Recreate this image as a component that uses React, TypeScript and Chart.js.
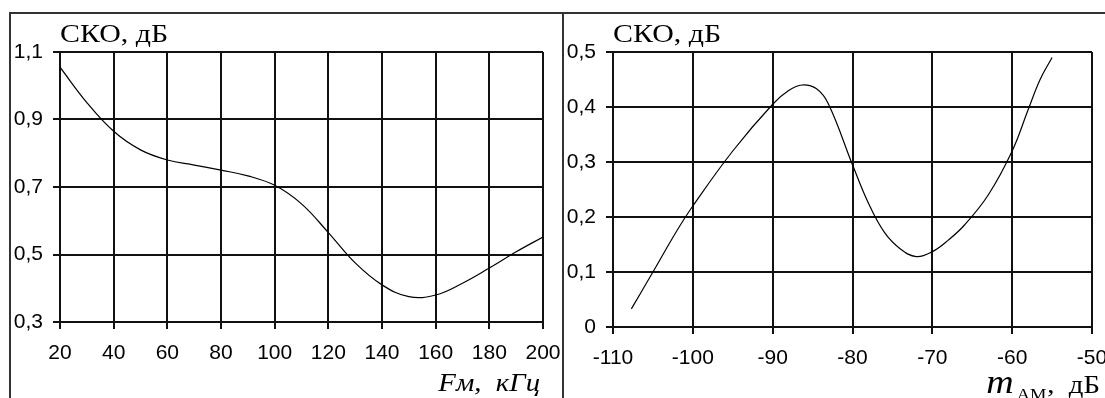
import React, { useEffect, useRef } from 'react';
import { Chart, registerables } from 'chart.js';

Chart.register(...registerables);

// ---- Left chart: СКО vs Fм ----
const fmX = [20, 30, 40, 50, 60, 70, 80, 90, 100, 110, 120, 130, 140, 150, 160, 170, 180, 190, 200];
const skoFm = [1.055, 0.95, 0.865, 0.81, 0.78, 0.765, 0.75, 0.733, 0.705, 0.65, 0.565, 0.475, 0.41, 0.375, 0.38, 0.415, 0.46, 0.508, 0.552];
const fmTicks = [20, 40, 60, 80, 100, 120, 140, 160, 180, 200];
const skoFmTicks = [0.3, 0.5, 0.7, 0.9, 1.1];

// ---- Right chart: СКО vs mАМ ----
const mX = [-107.7, -105, -102, -100, -95, -90, -88, -86.3, -84.5, -83, -80, -78, -76, -74, -72, -70, -68, -66, -63, -60, -58, -56.5, -55];
const skoM = [0.033, 0.1, 0.175, 0.22, 0.32, 0.405, 0.43, 0.44, 0.433, 0.405, 0.295, 0.225, 0.172, 0.142, 0.128, 0.137, 0.158, 0.185, 0.24, 0.32, 0.395, 0.45, 0.49];
const mTicks = [-110, -100, -90, -80, -70, -60, -50];
const skoMTicks = [0, 0.1, 0.2, 0.3, 0.4, 0.5];

const yTitle = 'СКО, дБ';
const fmTitle = 'Fм,  кГц';
const mTitleMain = 'm';
const mTitleSub = 'АМ';
const mTitleUnit = ',  дБ';

const SX = 1.15;
const SERIF = '"Liberation Serif", "Times New Roman", serif';
const SANS = '"Liberation Sans", Arial, sans-serif';

function fmtComma(v: number): string {
  if (v === 0) return '0';
  return v.toFixed(1).replace('.', ',');
}

function drawStretched(ctx: CanvasRenderingContext2D, text: string, x: number, y: number, font: string, align: 'left' | 'right' = 'left'): number {
  ctx.save();
  ctx.font = font;
  ctx.fillStyle = '#000';
  ctx.textBaseline = 'alphabetic';
  ctx.textAlign = 'left';
  const w = ctx.measureText(text).width * SX;
  const x0 = align === 'right' ? x - w : x;
  ctx.translate(x0, y);
  ctx.scale(SX, 1);
  ctx.fillText(text, 0, 0);
  ctx.restore();
  return x0;
}

function makeConfig(opts: {
  xs: number[]; ys: number[]; xTicks: number[]; yTicks: number[];
  xMin: number; xMax: number; yMin: number; yMax: number;
  padRight: number; xAxisH: number;
  drawTexts: (ctx: CanvasRenderingContext2D, area: any) => void;
}): any {
  const gridCol = '#111';
  return {
    type: 'line',
    data: {
      datasets: [{
        data: opts.xs.map((x, i) => ({ x, y: opts.ys[i] })),
        borderColor: '#000',
        borderWidth: 1.2,
        pointRadius: 0,
        fill: false,
        tension: 0.4,
      }],
    },
    options: {
      responsive: false,
      animation: false,
      events: [],
      layout: { padding: { top: 38, right: opts.padRight, left: 0, bottom: 0 } },
      plugins: { legend: { display: false }, tooltip: { enabled: false }, title: { display: false } },
      scales: {
        x: {
          type: 'linear',
          min: opts.xMin,
          max: opts.xMax,
          afterBuildTicks: (s: any) => { s.ticks = opts.xTicks.map((v) => ({ value: v })); },
          afterFit: (s: any) => { s.height = opts.xAxisH; s.paddingLeft = 0; s.paddingRight = 0; },
          ticks: {
            font: { family: SANS, size: 21 },
            color: '#000',
            padding: 12,
            maxRotation: 0,
            autoSkip: false,
            callback: (v: any) => String(v),
          },
          grid: { color: gridCol, lineWidth: 2, tickLength: 7, tickColor: gridCol, tickWidth: 2, drawTicks: true },
          border: { color: gridCol, width: 2 },
        },
        y: {
          type: 'linear',
          min: opts.yMin,
          max: opts.yMax,
          afterBuildTicks: (s: any) => { s.ticks = opts.yTicks.map((v) => ({ value: v })); },
          afterFit: (s: any) => { s.width = 49; s.paddingTop = 0; s.paddingBottom = 0; },
          ticks: {
            font: { family: SANS, size: 21 },
            color: '#000',
            padding: 10,
            autoSkip: false,
            callback: (v: any) => fmtComma(Number(v)),
          },
          grid: { color: gridCol, lineWidth: 2, tickLength: 7, tickColor: gridCol, tickWidth: 2, drawTicks: true },
          border: { color: gridCol, width: 2 },
        },
      },
    },
    plugins: [{
      id: 'texts',
      afterDraw(chart: any) {
        const ctx = chart.ctx as CanvasRenderingContext2D;
        ctx.save();
        opts.drawTexts(ctx, chart.chartArea);
        ctx.restore();
      },
    }],
  };
}

export default function App() {
  const leftRef = useRef<HTMLCanvasElement>(null);
  const rightRef = useRef<HTMLCanvasElement>(null);

  useEffect(() => {
    const c1 = new Chart(leftRef.current as HTMLCanvasElement, makeConfig({
      xs: fmX, ys: skoFm, xTicks: fmTicks, yTicks: skoFmTicks,
      xMin: 20, xMax: 200, yMin: 0.3, yMax: 1.1,
      padRight: 19, xAxisH: 76,
      drawTexts: (ctx, area) => {
        drawStretched(ctx, yTitle, area.left, 27.5, `26px ${SERIF}`);
        drawStretched(ctx, fmTitle, area.right - 3, 377, `italic 25px ${SERIF}`, 'right');
      },
    }));
    const c2 = new Chart(rightRef.current as HTMLCanvasElement, makeConfig({
      xs: mX, ys: skoM, xTicks: mTicks, yTicks: skoMTicks,
      xMin: -110, xMax: -50, yMin: 0, yMax: 0.5,
      padRight: 13, xAxisH: 71,
      drawTexts: (ctx, area) => {
        drawStretched(ctx, yTitle, area.left, 27.5, `26px ${SERIF}`);
        const unitX = drawStretched(ctx, mTitleUnit, area.right + 8, 379, `25px ${SERIF}`, 'right');
        const subX = drawStretched(ctx, mTitleSub, unitX - 1, 386, `16px ${SERIF}`, 'right');
        drawStretched(ctx, mTitleMain, subX - 3, 379, `italic 33px ${SERIF}`, 'right');
      },
    }));
    return () => { c1.destroy(); c2.destroy(); };
  }, []);

  const line = '#333';
  return (
    <div style={{ position: 'fixed', left: 0, top: 0, width: 1105, height: 398, background: '#fff', overflow: 'hidden' }}>
      <div style={{ position: 'absolute', left: 9, top: 12, width: 1096, height: 2, background: line }} />
      <div style={{ position: 'absolute', left: 9, top: 12, width: 2, height: 386, background: line }} />
      <div style={{ position: 'absolute', left: 562, top: 12, width: 2, height: 386, background: line }} />
      <canvas ref={leftRef} width={551} height={384} style={{ position: 'absolute', left: 11, top: 14, width: 551, height: 384 }} />
      <canvas ref={rightRef} width={541} height={384} style={{ position: 'absolute', left: 564, top: 14, width: 541, height: 384 }} />
    </div>
  );
}
